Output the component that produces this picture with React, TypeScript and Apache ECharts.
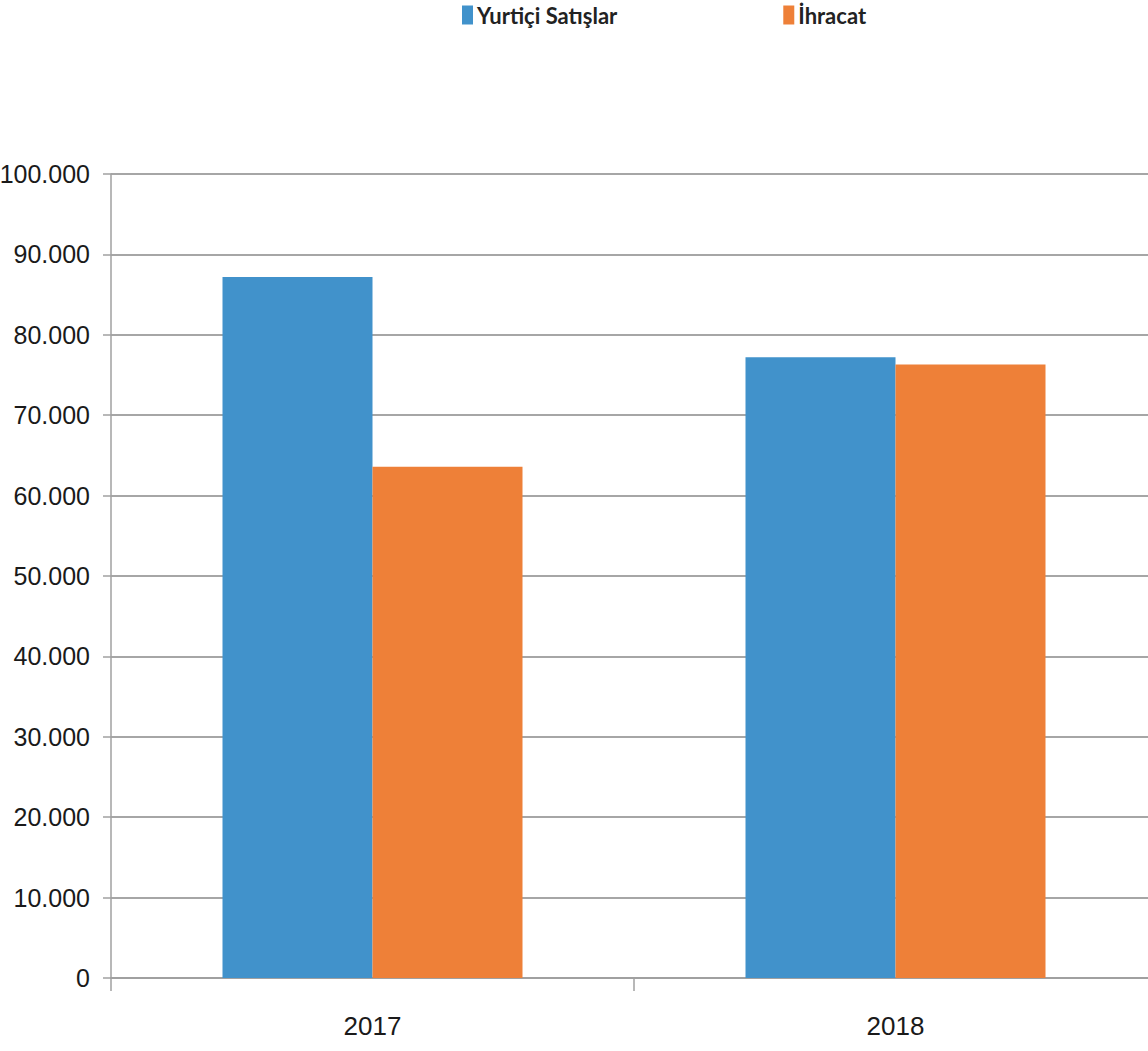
import React, { useEffect, useRef } from "react";
import * as echarts from "echarts";

const categories = ["2017", "2018"];
const seriesNames = ["Yurtiçi Satışlar", "İhracat"];
const domesticSales = [87200, 77200];
const exportSales = [63600, 76300];
const yTicks = { min: 0, max: 100000, interval: 10000 };

const fmt = (v: number) => (v === 0 ? "0" : v.toLocaleString("de-DE"));

export default function App() {
  const ref = useRef<HTMLDivElement>(null);
  useEffect(() => {
    if (!ref.current) return;
    const chart = echarts.init(ref.current, undefined, { renderer: "svg" });
    const axisFont = "'Liberation Sans Narrow', 'Liberation Sans', Arial, sans-serif";
    chart.setOption({
      animation: false,
      backgroundColor: "#ffffff",
      color: ["#4192cb", "#ee8038"],
      legend: {
        top: 4,
        left: 462,
        padding: 0,
        itemWidth: 11,
        itemHeight: 19,
        itemGap: 166,
        icon: "rect",
        textStyle: {
          fontFamily: "Lato, 'Open Sans', sans-serif",
          fontWeight: "bold",
          fontSize: 22,
          color: "#222222",
          padding: [0, 0, 0, -1],
        },
        data: seriesNames,
      },
      grid: {
        left: 111,
        top: 174,
        bottom: 73,
        right: -9,
        containLabel: false,
        outerBoundsMode: "none",
      },
      xAxis: {
        type: "category",
        data: categories,
        axisLine: { lineStyle: { color: "#a0a0a0", width: 2 } },
        axisTick: { show: true, length: 13, lineStyle: { color: "#a0a0a0", width: 1.5 } },
        axisLabel: {
          margin: 35,
          fontFamily: axisFont,
          fontSize: 26,
          color: "#1a1a1a",
        },
      },
      yAxis: {
        type: "value",
        min: yTicks.min,
        max: yTicks.max,
        interval: yTicks.interval,
        axisLine: { show: true, lineStyle: { color: "#a0a0a0", width: 1.5 } },
        axisTick: { show: true, length: 8, lineStyle: { color: "#a0a0a0", width: 1.5 } },
        splitLine: { lineStyle: { color: "#a6a6a6", width: 2 } },
        axisLabel: {
          margin: 21,
          formatter: (v: number) => fmt(v),
          fontFamily: axisFont,
          fontSize: 25,
          color: "#1a1a1a",
        },
      },
      series: [
        {
          name: seriesNames[0],
          type: "bar",
          data: domesticSales,
          barWidth: 150,
          barGap: "0%",
        },
        {
          name: seriesNames[1],
          type: "bar",
          data: exportSales,
          barWidth: 150,
          barGap: "0%",
        },
      ],
    });
    return () => chart.dispose();
  }, []);
  return (
    <div
      ref={ref}
      style={{ position: "absolute", left: 0, top: 0, width: 1148, height: 1051 }}
    />
  );
}
